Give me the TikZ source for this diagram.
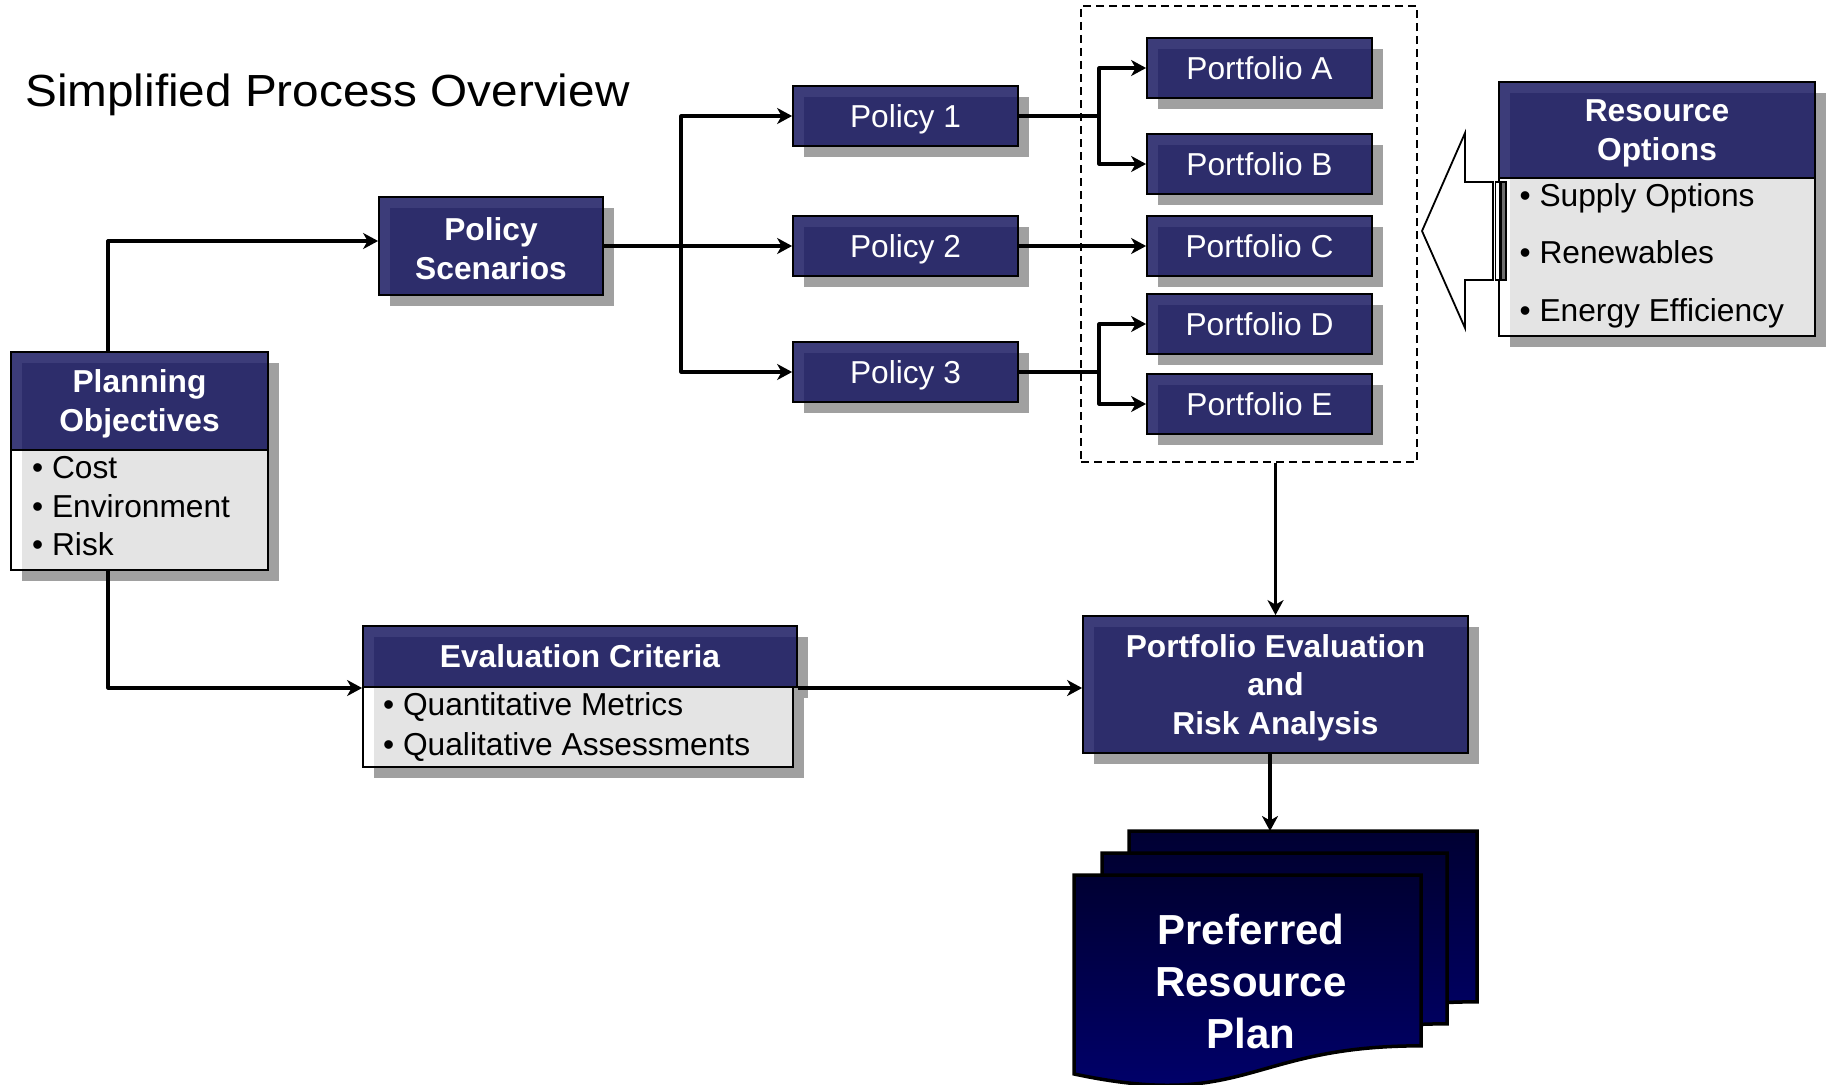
\documentclass[tikz,border=0pt]{standalone}
\usepackage{fontspec}
\setmainfont{Liberation Sans}
\usetikzlibrary{arrows.meta}

\definecolor{navyfill}{RGB}{26,26,98}
\definecolor{castgrey}{RGB}{160,160,160}
\definecolor{sheettop}{RGB}{0,0,50}
\definecolor{sheetbottom}{RGB}{0,0,112}
\definecolor{stripegrey}{RGB}{110,110,110}

\pgfdeclarelayer{castlayer}
\pgfsetlayers{castlayer,main}

\newcommand\regfont{\fontsize{31.7}{38.5}\selectfont}
\newcommand\boldfont{\fontsize{31.7}{38.5}\selectfont\bfseries}
% invisible strut centred on the capital height, so every line sits alike
\newcommand\cst{\rule[-0.2em]{0pt}{1.116em}}
% a taller first-line strut that lowers a label slightly
\newcommand\cstlow{\rule[-0.2em]{0pt}{\dimexpr1.116em+5pt\relax}}

\tikzset{
  headbox/.style={draw=black, line width=1.8pt, fill=navyfill, fill opacity=0.85,
    text opacity=1, text=white, inner sep=0pt, align=center},
  bodybox/.style={draw=black, line width=1.8pt, fill=white, fill opacity=0.72, inner sep=0pt},
  listtext/.style={text=black, inner sep=0pt, align=left, anchor=west},
  link/.style={line width=3.2pt, line join=round},
  tip/.style={link, -{Stealth[length=15pt,width=16pt,inset=4.5pt]}},
  twotips/.style={link, {Stealth[length=15pt,width=16pt,inset=4.5pt]}-{Stealth[length=15pt,width=16pt,inset=4.5pt]}},
  groupbox/.style={draw=black, line width=1.8pt, dash pattern=on 8pt off 5pt, inner sep=0pt},
  sheet/.style={draw=black, line width=3.5pt, line join=miter, top color=sheettop, bottom color=sheetbottom},
  hollowarrow/.style={draw=black, line width=1.8pt, fill=white, line join=miter},
}

% box with an offset grey cast
% #1 name, #2 font, #3 box style, #4 left, #5 top, #6 right, #7 bottom, #8 text
\newcommand{\castnode}[8]{%
  \begin{pgfonlayer}{castlayer}
    \fill[castgrey] ({#4+11},{#5+11}) rectangle ({#6+11},{#7+11});
  \end{pgfonlayer}
  \node[#3, font=#2, minimum width={#6-#4}, minimum height={#7-#5}] (#1) at ({(#4+#6)/2},{(#5+#7)/2}) {#8};
}

% stacked document sheet with a wavy lower edge
\newcommand{\docsheet}[3]{%
  \path[sheet] (#1,#2) -- (#3,#2) -- (#3,{#2+0.802*213})
    .. controls ({(#1+#3)/2},{#2+0.802*213}) and ({(#1+#3)/2},{#2+1.107*213}) ..
    (#1,{#2+0.934*213}) -- cycle;
}

\begin{document}
\begin{tikzpicture}[x=1pt,y=-1pt]
\useasboundingbox (0,0) rectangle (1828,1084);

\node[anchor=base west, inner sep=0pt, font=\fontsize{45}{54}\selectfont] (title) at (25,106.5)
  {\scalebox{1.06}[1]{Simplified Process Overview}};

% planning objectives
\castnode{po}{\boldfont}{headbox}{11}{352}{268}{450}{\cst Planning\\\cst Objectives}
\castnode{pob}{\regfont}{bodybox}{11}{450}{268}{570}{}
\node[listtext, font=\fontsize{31.7}{38.5}\selectfont] (poitems) at (32,506)
  {\cst• Cost\\\cst• Environment\\\cst• Risk};

% policy scenarios and policies
\castnode{ps}{\boldfont}{headbox}{379}{197}{603}{295}{\cstlow Policy\\\cst Scenarios}
\castnode{pol1}{\regfont}{headbox}{793}{86}{1018}{146}{\cst Policy 1}
\castnode{pol2}{\regfont}{headbox}{793}{216}{1018}{276}{\cst Policy 2}
\castnode{pol3}{\regfont}{headbox}{793}{342}{1018}{402}{\cst Policy 3}

% portfolios
\castnode{pfa}{\regfont}{headbox}{1147}{38}{1372}{98}{\cst Portfolio A}
\castnode{pfb}{\regfont}{headbox}{1147}{134}{1372}{194}{\cst Portfolio B}
\castnode{pfc}{\regfont}{headbox}{1147}{216}{1372}{276}{\cst Portfolio C}
\castnode{pfd}{\regfont}{headbox}{1147}{294}{1372}{354}{\cst Portfolio D}
\castnode{pfe}{\regfont}{headbox}{1147}{374}{1372}{434}{\cst Portfolio E}
\node[groupbox, minimum width=336, minimum height=456] (grp) at (1249,234) {};

% resource options
\castnode{ro}{\boldfont}{headbox}{1499}{82}{1815}{178}{\cst Resource\\\cst Options}
\castnode{rob}{\regfont}{bodybox}{1499}{178}{1815}{336}{}
\node[listtext, font=\fontsize{31.7}{57.5}\selectfont] (roitems) at (1519.5,252.5)
  {\cst• Supply Options\\\cst• Renewables\\\cst• Energy Efficiency};

% evaluation criteria
\castnode{ec}{\boldfont}{headbox}{363}{626}{797}{687}{\cst Evaluation Criteria}
\castnode{ecb}{\regfont}{bodybox}{363}{687}{793}{767}{}
\node[listtext, font=\fontsize{31.7}{40}\selectfont] (ecitems) at (383,724)
  {\cst• Quantitative Metrics\\\cst• Qualitative Assessments};

% portfolio evaluation
\castnode{pe}{\boldfont}{headbox}{1083}{616}{1468}{753}{\cst Portfolio Evaluation\\\cst and\\\cst Risk Analysis}

% striped block arrow from the resource options
\draw[hollowarrow] (1422,231) -- (1465,133) -- (1465,182) -- (1493,182) -- (1493,280)
  -- (1465,280) -- (1465,328) -- cycle;
\draw[hollowarrow, line width=1.3pt] (1495.7,182) rectangle (1499.3,280);
\draw[hollowarrow, line width=1.3pt, fill=stripegrey] (1501,182) rectangle (1506,280);

% preferred resource plan
\docsheet{1129}{831}{1477}
\docsheet{1102}{853}{1447}
\docsheet{1074}{875}{1421}
\node[font=\fontsize{42}{52}\selectfont\bfseries, text=white, align=center, inner sep=0pt] (plan) at (1251,981)
  {\cst Preferred\\\cst Resource\\\cst Plan};
\coordinate (plantop) at (1270,831);

% connectors
\coordinate (jpo) at (108,241);
\draw[tip] (jpo |- po.north) -- (jpo) -- (jpo -| ps.west);
\coordinate (jec) at (108,688);
\draw[tip] (jec |- pob.south) -- (jec) -- (jec -| ec.west);
\draw[tip] (ec.east |- jec) -- (jec -| pe.west);

\draw[tip] (ps.east) -- (pol2.west);
\coordinate (jpol) at (681,246);
\draw[twotips] (pol1.west) -| (jpol) |- (pol3.west);

\coordinate (jab) at (1099,116);
\draw[link] (pol1.east) -- (jab);
\draw[twotips] (pfa.west) -| (jab) |- (pfb.west);
\draw[tip] (pol2.east) -- (pfc.west);
\coordinate (jde) at (1099,372);
\draw[link] (pol3.east) -- (jde);
\draw[twotips] (pfd.west) -| (jde) |- (pfe.west);

\draw[tip] (pe.north |- grp.south) -- (pe.north);
\draw[tip] (plantop |- pe.south) -- (plantop);
\end{tikzpicture}
\end{document}
